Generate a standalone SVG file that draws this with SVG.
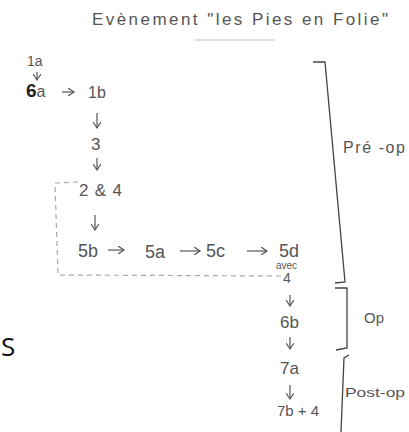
<svg xmlns="http://www.w3.org/2000/svg" width="409" height="432" viewBox="0 0 409 432">
<defs>
<style>
.t{font-family:"Liberation Sans","DejaVu Sans",sans-serif;fill:#555;font-weight:300}
.ln{stroke:#555;stroke-width:1.2;fill:none}
.dash{stroke:#aaa;stroke-width:1.2;fill:none;stroke-dasharray:5 4}
.br{stroke:#444;stroke-width:1.3;fill:none}
</style>
<marker id="ah" markerWidth="8" markerHeight="8" refX="6" refY="4" orient="auto" markerUnits="userSpaceOnUse">
<path d="M0,0 L6,4 L0,8" fill="none" stroke="#555" stroke-width="1.2"/>
</marker>
</defs>
<rect width="409" height="432" fill="#fff"/>
<g id="title">
<text class="t" x="92" y="25" font-size="17" textLength="296" lengthAdjust="spacing">Evènement  "les Pies en Folie"</text>
<line x1="195" y1="40" x2="275" y2="40" stroke="#bbb" stroke-width="1"/>
</g>
<g id="n1a"><text class="t" x="27" y="66" font-size="14">1a</text></g>
<g id="n6a"><text class="t" x="26" y="97" font-size="16"><tspan font-weight="bold" fill="#222" font-size="19">6</tspan>a</text></g>
<g id="n1b"><text class="t" x="88" y="98" font-size="16">1b</text></g>
<g id="n3"><text class="t" x="91" y="150" font-size="17">3</text></g>
<g id="n24"><text class="t" x="79" y="196" font-size="17" textLength="43" lengthAdjust="spacing">2 &amp; 4</text></g>
<g id="n5b"><text class="t" x="78" y="257" font-size="18">5b</text></g>
<g id="n5a"><text class="t" x="145" y="258" font-size="18">5a</text></g>
<g id="n5c"><text class="t" x="206" y="257" font-size="18">5c</text></g>
<g id="n5d"><text class="t" x="279" y="257" font-size="18">5d</text>
<text class="t" x="276" y="269" font-size="10">avec</text>
<text class="t" x="283" y="283" font-size="14">4</text></g>
<g id="n6b"><text class="t" x="280" y="328" font-size="17">6b</text></g>
<g id="n7a"><text class="t" x="280" y="374" font-size="17">7a</text></g>
<g id="n7b4"><text class="t" x="277" y="416" font-size="15">7b + 4</text></g>
<g id="preop">
<path class="br" d="M313,62 L325,62 L345,282 L335,283"/>
<text class="t" x="343" y="153" font-size="16" textLength="62" lengthAdjust="spacing">Pré -op</text>
</g>
<g id="op">
<path class="br" d="M335,288 L347,288 L347,348 L336,350"/>
<text class="t" x="364" y="323" font-size="15">Op</text>
</g>
<g id="postop">
<path class="br" d="M349,355 L344,358 L341,432"/>
<text class="t" x="345" y="397" font-size="13" textLength="60" lengthAdjust="spacingAndGlyphs">Post-op</text>
</g>
<g id="s"><text x="1" y="356" font-family="'Open Sans','DejaVu Sans',sans-serif" font-size="26" fill="#111">S</text></g>
<g id="connectors">
<line class="ln" x1="37" y1="72" x2="37" y2="80" marker-end="url(#ah)"/>
<line class="ln" x1="62" y1="92" x2="74" y2="92" marker-end="url(#ah)"/>
<line class="ln" x1="97" y1="113" x2="97" y2="128" stroke-width="2" marker-end="url(#ah)"/>
<line class="ln" x1="97" y1="158" x2="97" y2="170" marker-end="url(#ah)"/>
<line class="ln" x1="95" y1="215" x2="95" y2="230" marker-end="url(#ah)"/>
<line class="ln" x1="108" y1="250" x2="124" y2="250" marker-end="url(#ah)"/>
<line class="ln" x1="180" y1="251" x2="200" y2="251" marker-end="url(#ah)"/>
<line class="ln" x1="247" y1="251" x2="267" y2="251" marker-end="url(#ah)"/>
<path class="dash" d="M78,182 L55,183 L58,275 L282,276"/>
<line class="ln" x1="290" y1="295" x2="290" y2="306" marker-end="url(#ah)"/>
<line class="ln" x1="290" y1="337" x2="290" y2="349" marker-end="url(#ah)"/>
<line class="ln" x1="290" y1="385" x2="290" y2="399" marker-end="url(#ah)"/>
</g>
</svg>
